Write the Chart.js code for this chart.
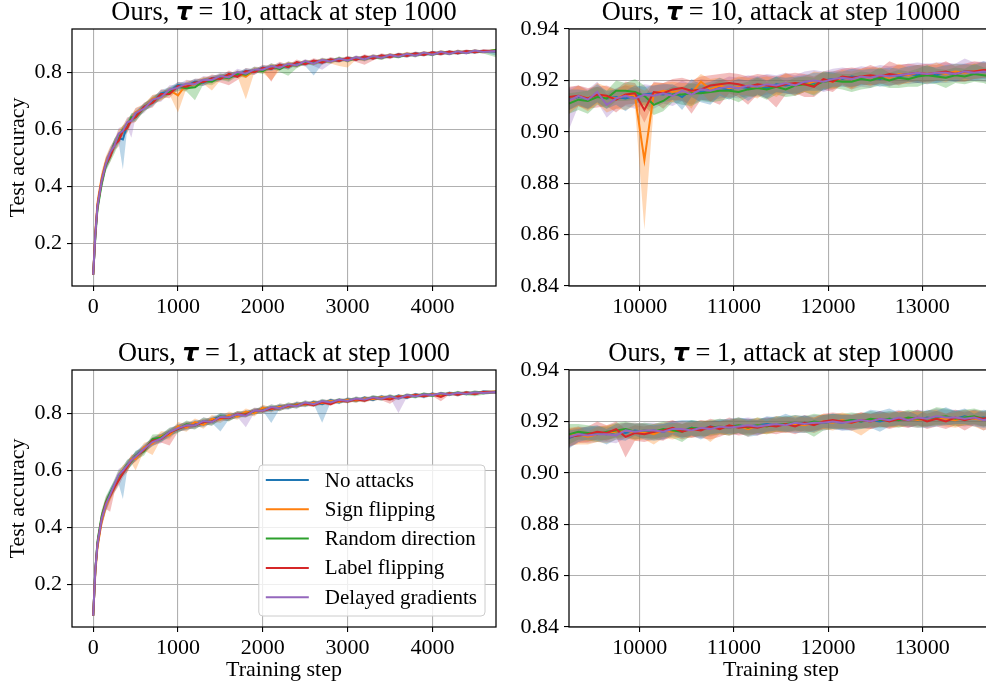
<!DOCTYPE html>
<html><head><meta charset="utf-8">
<script src="https://cdn.jsdelivr.net/npm/chart.js@4/dist/chart.umd.min.js"></script>
<style>
html,body{margin:0;padding:0;background:#fff;width:986px;height:684px;overflow:hidden;position:relative}
canvas{position:absolute}
</style></head><body>
<canvas id="c1" width="500" height="342" style="left:0;top:0"></canvas>
<canvas id="c2" width="494" height="342" style="left:500px;top:0"></canvas>
<canvas id="c3" width="500" height="342" style="left:0;top:342px"></canvas>
<canvas id="c4" width="494" height="342" style="left:500px;top:342px"></canvas>
<script>
// ---------------- DATA ----------------
const seriesNames = ['No attacks', 'Sign flipping', 'Random direction', 'Label flipping', 'Delayed gradients'];

// training steps, attack at step 1000 (left panels)
const stepsEarly = [0,25,50,100,150,200,250,300,350,400,450,500,600,700,800,900,1000,1100,1200,1300,1400,1500,1600,1700,1800,1900,2000,2100,2200,2300,2400,2500,2600,2700,2800,2900,3000,3100,3200,3300,3400,3500,3600,3700,3800,3900,4000,4100,4200,4300,4400,4500,4600,4750];
// training steps, attack at step 10000 (right panels)
const stepsLate = [9250,9350,9450,9550,9650,9750,9850,9950,10050,10150,10250,10350,10450,10550,10650,10750,10850,10950,11050,11150,11250,11350,11450,11550,11650,11750,11850,11950,12050,12150,12250,12350,12450,12550,12650,12750,12850,12950,13050,13150,13250,13350,13450,13550,13650,13750];

// tick values and labels
const xTicksEarly = [0, 1000, 2000, 3000, 4000];
const xTickLabelsEarly = ['0', '1000', '2000', '3000', '4000'];
const xTicksLate = [10000, 11000, 12000, 13000];
const xTickLabelsLate = ['10000', '11000', '12000', '13000'];
const yTicksEarly = [0.2, 0.4, 0.6, 0.8];
const yTickLabelsEarly = ['0.2', '0.4', '0.6', '0.8'];
const yTicksLate = [0.84, 0.86, 0.88, 0.90, 0.92, 0.94];
const yTickLabelsLate = ['0.84', '0.86', '0.88', '0.90', '0.92', '0.94'];

// band offsets (thousandths of accuracy) above the mean, left panels
const upperEarlyA = [3,25,28,25,22,20,20,18,18,17,16,15,15,13,16,12,14,12,13,11,13,10,12,9,11,9,10,8,10,8,9,7,8,7,8,6,7,6,7,6,7,6,6,7,6,7,6,6,5,6,5,6,5,6];
const upperEarlyB = [3,22,25,22,20,18,18,20,15,18,14,17,12,16,12,15,11,14,10,13,10,12,9,11,9,10,8,10,8,9,7,8,6,8,6,7,6,7,6,7,6,7,5,6,5,6,5,6,5,6,5,6,5,5];

// ---- Panel 1: tau = 10, attack at step 1000 (mean test accuracy) ----
const p1_none  = [0.09,0.23,0.33,0.42,0.48,0.515,0.55,0.57,0.565,0.615,0.64,0.648,0.68,0.695,0.727,0.733,0.756,0.752,0.768,0.764,0.78,0.781,0.793,0.79,0.806,0.802,0.818,0.813,0.826,0.82,0.834,0.83,0.84,0.835,0.846,0.841,0.851,0.846,0.855,0.85,0.859,0.855,0.864,0.859,0.868,0.863,0.871,0.866,0.873,0.868,0.875,0.871,0.876,0.874];
const p1_sign  = [0.09,0.24,0.34,0.43,0.485,0.52,0.545,0.582,0.596,0.622,0.636,0.66,0.675,0.708,0.713,0.738,0.72,0.76,0.758,0.773,0.772,0.785,0.784,0.798,0.786,0.81,0.807,0.822,0.816,0.83,0.825,0.838,0.832,0.843,0.838,0.848,0.843,0.852,0.848,0.857,0.852,0.862,0.857,0.866,0.861,0.869,0.864,0.872,0.867,0.874,0.87,0.876,0.872,0.878];
const p1_rand  = [0.09,0.22,0.32,0.41,0.475,0.505,0.55,0.568,0.6,0.607,0.643,0.643,0.678,0.70,0.72,0.731,0.75,0.745,0.748,0.77,0.768,0.785,0.78,0.796,0.792,0.81,0.805,0.823,0.812,0.829,0.824,0.837,0.833,0.843,0.839,0.849,0.842,0.852,0.847,0.856,0.851,0.861,0.855,0.865,0.86,0.869,0.863,0.872,0.866,0.874,0.869,0.876,0.872,0.879];
const p1_label = [0.09,0.23,0.33,0.42,0.48,0.505,0.545,0.56,0.594,0.605,0.635,0.643,0.68,0.693,0.725,0.725,0.753,0.75,0.765,0.767,0.78,0.777,0.795,0.785,0.805,0.801,0.817,0.813,0.828,0.819,0.837,0.829,0.842,0.835,0.847,0.841,0.852,0.844,0.857,0.849,0.861,0.854,0.864,0.858,0.868,0.862,0.871,0.865,0.874,0.868,0.876,0.871,0.877,0.875];
const p1_delay = [0.09,0.23,0.33,0.42,0.48,0.52,0.543,0.585,0.595,0.625,0.631,0.658,0.673,0.705,0.713,0.74,0.747,0.761,0.759,0.775,0.774,0.788,0.783,0.802,0.796,0.811,0.81,0.823,0.816,0.831,0.825,0.84,0.831,0.845,0.838,0.849,0.842,0.854,0.846,0.858,0.851,0.862,0.856,0.866,0.859,0.87,0.863,0.873,0.865,0.875,0.868,0.877,0.872,0.876];
// band offsets below the mean, in thousandths of accuracy
const p1_none_lo  = [3,25,28,25,22,20,20,18,105,17,16,15,15,13,16,12,14,12,13,11,13,10,12,9,11,9,10,8,10,8,9,7,50,7,8,6,7,6,7,6,7,6,6,7,6,7,6,6,5,6,5,6,5,14];
const p1_sign_lo  = [3,22,25,22,20,18,18,20,15,18,14,17,12,16,12,15,60,14,10,13,35,12,9,11,80,10,8,50,8,9,7,8,6,8,6,25,25,7,6,7,6,7,5,6,5,6,5,6,5,6,5,6,5,5];
const p1_rand_lo  = [3,25,28,25,22,20,35,18,18,17,16,15,15,13,16,12,14,12,45,11,13,10,12,9,11,9,10,8,10,40,9,7,8,7,8,6,7,6,7,6,7,6,6,7,6,7,6,6,5,6,5,6,5,25];
const p1_label_lo = [3,22,25,22,20,18,18,20,15,18,14,17,12,16,12,15,11,14,10,13,10,12,40,11,9,10,8,45,8,9,7,8,6,8,6,7,6,7,30,7,6,7,5,6,5,6,5,6,5,6,5,6,5,5];
const p1_delay_lo = [3,25,28,25,22,20,20,18,18,17,60,15,15,13,16,12,14,12,13,11,13,10,12,9,11,9,10,8,10,8,9,7,8,35,8,6,7,6,7,6,7,6,6,7,6,7,6,6,5,6,5,6,5,6];

// ---- Panel 2: tau = 10, attack at step 10000 ----
const p2_none  = [0.9125,0.9135,0.913,0.9145,0.913,0.9135,0.913,0.914,0.9145,0.915,0.9145,0.9155,0.9135,0.9165,0.9155,0.9165,0.917,0.9165,0.9175,0.917,0.9175,0.917,0.9185,0.918,0.9185,0.919,0.919,0.92,0.9205,0.9205,0.9215,0.921,0.9215,0.9205,0.922,0.9215,0.9225,0.922,0.9225,0.922,0.923,0.9225,0.9235,0.923,0.9235,0.923];
const p2_sign  = [0.912,0.914,0.913,0.915,0.9135,0.913,0.9145,0.914,0.889,0.915,0.916,0.9155,0.916,0.915,0.9195,0.9165,0.918,0.917,0.9175,0.918,0.917,0.9185,0.9175,0.919,0.918,0.9185,0.9195,0.92,0.9195,0.921,0.9205,0.9215,0.921,0.922,0.921,0.9225,0.922,0.923,0.9225,0.923,0.9225,0.9235,0.923,0.9235,0.924,0.9235];
const p2_rand  = [0.911,0.9125,0.912,0.9135,0.913,0.916,0.916,0.9155,0.914,0.9105,0.912,0.9145,0.9145,0.915,0.915,0.9155,0.916,0.916,0.9155,0.9165,0.917,0.9165,0.9175,0.9165,0.918,0.9185,0.918,0.9195,0.92,0.9195,0.9195,0.9205,0.92,0.921,0.92,0.921,0.9205,0.9215,0.922,0.9215,0.921,0.922,0.9215,0.9225,0.922,0.9215];
const p2_label = [0.9135,0.914,0.913,0.9145,0.914,0.9125,0.9145,0.915,0.9085,0.9155,0.915,0.9165,0.917,0.916,0.9165,0.918,0.9185,0.919,0.9185,0.9175,0.9185,0.918,0.9175,0.9185,0.919,0.9185,0.9175,0.9205,0.9195,0.9215,0.921,0.9215,0.922,0.9215,0.9225,0.922,0.9225,0.923,0.9225,0.923,0.9235,0.9225,0.9235,0.9235,0.924,0.924];
const p2_delay = [0.912,0.914,0.9125,0.9155,0.9105,0.913,0.914,0.913,0.9145,0.914,0.915,0.914,0.916,0.9145,0.9165,0.916,0.917,0.9175,0.917,0.918,0.9175,0.9185,0.918,0.919,0.918,0.9195,0.92,0.9195,0.9205,0.921,0.9205,0.9215,0.921,0.922,0.9215,0.922,0.9225,0.923,0.9225,0.923,0.923,0.9225,0.9235,0.923,0.9235,0.923];
const p2_none_lo  = [4,3,4,3,4,3,5,3,3,4,3,3,5,3,4,6,3,4,3,5,3,4,3,3,4,3,3,4,3,3,4,3,3,3,4,3,3,3,4,3,3,3,3,3,3,3];
const p2_none_hi  = [4,3,3,4,3,3,3,4,3,3,4,3,3,4,3,3,4,3,3,3,4,3,3,3,3,3,4,3,3,3,3,3,3,4,3,3,3,4,3,3,3,4,3,3,4,3];
const p2_sign_lo  = [5,4,5,4,6,4,6,4,27,5,4,4,3,6,4,5,3,4,3,4,4,3,4,3,4,3,5,3,3,3,4,3,3,3,3,4,3,3,4,3,3,3,3,3,3,3];
const p2_sign_hi  = [4,4,3,4,4,3,4,4,27,4,3,4,3,4,3,4,3,3,4,3,4,3,3,4,3,3,4,3,3,3,3,3,4,3,3,4,3,3,3,4,3,3,3,3,3,3];
const p2_rand_lo  = [4,4,5,3,4,4,4,3,4,4,4,3,4,5,3,4,4,3,4,3,3,4,3,3,4,3,4,3,3,3,4,4,3,3,3,4,3,4,3,3,4,3,3,3,3,4];
const p2_rand_hi  = [4,3,4,4,3,4,3,5,4,3,4,3,3,4,3,3,4,3,3,3,4,3,4,3,3,3,3,4,3,3,3,3,3,4,3,3,3,3,4,3,3,3,3,4,3,3];
const p2_label_lo = [5,4,4,5,4,5,4,4,5,4,6,4,5,9,4,6,8,4,5,7,4,5,8,4,4,5,4,4,4,3,4,3,4,3,3,4,3,4,3,3,3,3,4,3,3,3];
const p2_label_hi = [4,4,4,3,4,4,5,4,5,4,4,4,4,4,5,4,4,4,4,4,4,4,4,4,4,4,4,3,4,3,4,3,4,3,5,4,4,3,4,3,4,3,3,4,3,3];
const p2_delay_lo = [11,4,4,4,5,4,4,4,4,5,4,4,4,4,4,4,4,4,4,4,4,4,3,4,4,4,3,4,4,3,4,4,4,3,4,3,4,4,3,4,4,3,4,3,4,4];
const p2_delay_hi = [5,4,4,4,4,4,4,4,4,4,4,4,4,4,4,4,3,4,4,4,4,4,4,4,4,4,4,4,4,4,4,4,4,4,4,4,4,4,4,4,4,4,5,4,4,4];

// ---- Panel 3: tau = 1, attack at step 1000 ----
const p3_none  = [0.09,0.25,0.34,0.43,0.48,0.52,0.545,0.57,0.59,0.615,0.635,0.65,0.68,0.698,0.718,0.728,0.753,0.752,0.767,0.763,0.78,0.787,0.791,0.792,0.803,0.803,0.82,0.812,0.827,0.821,0.835,0.829,0.841,0.833,0.847,0.839,0.851,0.844,0.856,0.848,0.86,0.851,0.863,0.856,0.868,0.86,0.87,0.863,0.873,0.866,0.875,0.869,0.877,0.875];
const p3_sign  = [0.09,0.24,0.33,0.42,0.475,0.51,0.54,0.575,0.60,0.61,0.64,0.64,0.682,0.694,0.722,0.724,0.756,0.75,0.77,0.76,0.782,0.779,0.795,0.789,0.807,0.8,0.821,0.814,0.825,0.824,0.833,0.831,0.839,0.836,0.845,0.841,0.849,0.845,0.854,0.85,0.858,0.853,0.861,0.858,0.866,0.862,0.868,0.865,0.871,0.868,0.874,0.87,0.876,0.877];
const p3_rand  = [0.09,0.25,0.35,0.44,0.49,0.52,0.55,0.58,0.60,0.62,0.632,0.652,0.668,0.71,0.716,0.735,0.746,0.762,0.757,0.773,0.77,0.79,0.784,0.798,0.797,0.809,0.811,0.822,0.818,0.83,0.827,0.838,0.832,0.843,0.838,0.848,0.843,0.853,0.847,0.858,0.852,0.861,0.854,0.865,0.859,0.869,0.863,0.871,0.866,0.874,0.868,0.876,0.871,0.877];
const p3_label = [0.09,0.25,0.34,0.43,0.485,0.51,0.54,0.565,0.59,0.612,0.635,0.648,0.672,0.705,0.71,0.733,0.746,0.758,0.759,0.77,0.772,0.786,0.784,0.799,0.796,0.81,0.81,0.818,0.819,0.827,0.828,0.835,0.829,0.84,0.833,0.846,0.842,0.85,0.845,0.855,0.853,0.849,0.86,0.857,0.865,0.861,0.867,0.858,0.871,0.866,0.874,0.869,0.876,0.875];
const p3_delay = [0.09,0.25,0.34,0.43,0.48,0.515,0.55,0.585,0.60,0.618,0.636,0.648,0.676,0.70,0.712,0.735,0.749,0.759,0.758,0.774,0.77,0.789,0.786,0.797,0.792,0.811,0.81,0.823,0.818,0.83,0.826,0.839,0.833,0.844,0.839,0.848,0.844,0.853,0.849,0.857,0.852,0.861,0.852,0.865,0.86,0.868,0.864,0.871,0.866,0.873,0.869,0.875,0.872,0.876];
const p3_none_lo  = [3,25,28,25,22,20,20,18,90,17,16,15,15,13,16,12,14,12,13,11,13,50,12,9,11,9,10,45,10,8,9,7,8,65,8,6,7,6,7,6,7,6,6,7,6,7,6,6,5,6,5,6,5,6];
const p3_sign_lo  = [3,22,25,22,20,18,18,20,15,18,14,40,12,40,12,15,11,14,10,13,10,12,9,11,9,10,8,10,8,9,7,8,6,8,6,7,6,7,6,7,6,7,5,6,5,6,5,6,5,6,5,6,5,5];
const p3_rand_lo  = [3,25,28,25,22,20,20,18,18,17,16,15,15,13,16,12,14,12,13,11,13,10,12,9,11,9,10,8,10,8,9,7,8,7,8,6,7,6,7,6,7,6,6,7,6,7,6,6,5,6,5,15,5,6];
const p3_label_lo = [3,22,25,22,20,55,18,20,15,18,14,17,12,16,12,45,11,14,10,13,10,12,9,11,9,10,8,10,8,9,7,8,6,8,6,7,6,7,6,7,6,15,5,6,5,6,5,15,5,6,5,6,5,5];
const p3_delay_lo = [3,25,28,25,22,20,20,18,18,17,16,15,15,13,16,12,14,12,13,11,13,10,12,9,40,9,10,8,10,8,9,7,8,7,8,6,7,6,7,6,7,6,50,7,6,7,6,6,5,6,5,6,5,6];

// ---- Panel 4: tau = 1, attack at step 10000 ----
const p4_none  = [0.9135,0.915,0.915,0.9155,0.915,0.916,0.9155,0.9165,0.916,0.9165,0.916,0.917,0.9165,0.9175,0.917,0.918,0.9175,0.918,0.9185,0.918,0.9185,0.919,0.9185,0.919,0.9185,0.9195,0.919,0.9195,0.92,0.9195,0.9205,0.92,0.9205,0.92,0.921,0.9205,0.921,0.9205,0.9215,0.921,0.9215,0.921,0.922,0.921,0.9215,0.921];
const p4_sign  = [0.9145,0.915,0.914,0.915,0.9155,0.916,0.9165,0.9155,0.916,0.915,0.9165,0.916,0.917,0.9165,0.9175,0.917,0.918,0.9175,0.9185,0.917,0.9185,0.918,0.919,0.9185,0.919,0.9185,0.9195,0.92,0.9195,0.9205,0.9195,0.9205,0.92,0.921,0.9205,0.921,0.921,0.9205,0.921,0.9215,0.921,0.9205,0.9215,0.921,0.9205,0.921];
const p4_rand  = [0.915,0.916,0.9155,0.915,0.916,0.9165,0.917,0.916,0.9165,0.916,0.917,0.9165,0.916,0.9175,0.917,0.9175,0.918,0.9175,0.9185,0.9175,0.9185,0.918,0.919,0.919,0.9195,0.919,0.92,0.9195,0.92,0.92,0.9205,0.92,0.921,0.9205,0.921,0.9205,0.9215,0.921,0.921,0.9215,0.922,0.921,0.9215,0.922,0.921,0.9215];
const p4_label = [0.914,0.9145,0.915,0.916,0.9155,0.917,0.914,0.9155,0.915,0.916,0.9165,0.9175,0.916,0.917,0.9165,0.918,0.917,0.9185,0.9175,0.918,0.9175,0.9185,0.918,0.919,0.918,0.9195,0.9185,0.92,0.9205,0.92,0.9195,0.9205,0.92,0.921,0.92,0.921,0.9205,0.9215,0.92,0.921,0.92,0.9215,0.9205,0.9215,0.921,0.922];
const p4_delay = [0.914,0.915,0.9145,0.915,0.915,0.9145,0.9165,0.916,0.9165,0.9165,0.916,0.917,0.917,0.9165,0.9175,0.917,0.918,0.9175,0.918,0.9185,0.918,0.9185,0.919,0.9185,0.9195,0.919,0.9195,0.9195,0.92,0.9195,0.92,0.9205,0.92,0.921,0.9205,0.9215,0.9205,0.9215,0.921,0.922,0.9215,0.9215,0.921,0.9215,0.9205,0.921];
const p4_none_lo  = [4,3,2,3,4,3,3,2,3,4,3,2,3,3,4,3,2,3,3,4,4,3,2,3,3,4,3,2,3,3,4,3,3,4,3,2,3,3,4,3,3,2,3,3,4,3];
const p4_none_hi  = [3,2,3,3,2,3,4,3,3,2,3,3,4,3,3,2,3,3,3,3,2,3,3,4,3,3,2,3,3,3,2,3,4,4,4,3,3,2,3,3,4,3,3,2,3,3];
const p4_sign_lo  = [4,4,3,3,4,3,3,3,3,4,3,3,3,3,3,5,3,3,3,3,3,3,3,3,3,3,3,3,3,3,3,6,3,3,3,3,3,3,3,3,3,3,3,3,4,3];
const p4_sign_hi  = [3,3,2,3,3,3,3,4,3,3,2,3,3,3,3,3,2,3,3,3,3,2,3,3,3,3,2,3,3,3,3,3,3,2,3,3,3,3,3,3,2,3,3,3,3,3];
const p4_rand_lo  = [4,3,3,3,3,3,3,3,3,3,3,3,4,3,3,3,3,3,3,3,3,3,3,3,3,3,6,3,3,3,3,3,3,3,3,3,3,3,3,3,3,3,3,3,3,3];
const p4_rand_hi  = [4,3,3,3,2,3,3,3,3,3,3,3,3,3,3,3,3,3,3,3,3,3,3,3,3,3,3,3,3,3,3,3,3,3,3,3,3,3,3,4,3,3,3,3,3,3];
const p4_label_lo = [4,3,3,3,3,3,8,3,3,3,4,3,3,3,3,5,3,3,3,3,3,3,3,3,3,3,3,3,3,3,3,3,3,3,3,3,3,3,3,3,3,3,4,3,3,3];
const p4_label_hi = [3,3,3,4,3,3,3,3,3,3,3,3,3,3,3,3,3,3,3,3,3,3,3,3,3,3,3,3,3,3,3,3,3,3,3,3,3,3,3,3,3,3,3,3,3,3];
const p4_delay_lo = [4,3,3,3,3,3,3,3,3,3,3,3,3,3,3,3,3,3,3,3,3,3,3,3,3,3,3,3,3,3,3,3,3,3,3,3,3,3,3,3,3,3,3,3,4,3];
const p4_delay_hi = [3,3,3,3,3,3,3,3,3,3,3,3,3,3,3,3,3,3,3,3,3,3,3,3,3,3,3,3,3,3,3,3,3,3,3,3,3,3,3,3,3,3,3,3,3,3];

// ---------------- STYLE ----------------
const COLORS = ['#1f77b4', '#ff7f0e', '#2ca02c', '#d62728', '#9467bd'];
const BAND_UNIT = 0.001;
const FONT_FAMILY = "'Liberation Serif', 'Times New Roman', serif";
Chart.defaults.font.family = FONT_FAMILY;
Chart.defaults.font.size = 22;
Chart.defaults.color = '#000';

function rgba(hex, a) {
  const n = parseInt(hex.slice(1), 16);
  return `rgba(${(n >> 16) & 255},${(n >> 8) & 255},${n & 255},${a})`;
}

function buildDatasets(steps, means, los, his) {
  const bands = [], lines = [];
  means.forEach((m, s) => {
    bands.push({
      data: steps.map((x, i) => ({ x, y: m[i] + his[s][i] * BAND_UNIT })),
      fill: '+1', backgroundColor: rgba(COLORS[s], 0.3), borderColor: 'rgba(0,0,0,0)',
      borderWidth: 0, pointRadius: 0, order: 10
    });
    bands.push({
      data: steps.map((x, i) => ({ x, y: m[i] - los[s][i] * BAND_UNIT })),
      fill: false, borderColor: 'rgba(0,0,0,0)', borderWidth: 0, pointRadius: 0, order: 10
    });
    lines.push({
      label: seriesNames[s],
      data: steps.map((x, i) => ({ x, y: m[i] })),
      borderColor: COLORS[s], borderWidth: 2, pointRadius: 0, fill: false,
      order: 4 - s, isSeries: true
    });
  });
  return bands.concat(lines);
}

const framePlugin = {
  id: 'frame',
  afterDatasetsDraw(chart) {
    const { ctx, chartArea: a } = chart;
    ctx.save();
    ctx.strokeStyle = '#000';
    ctx.lineWidth = 1.25;
    ctx.strokeRect(a.left, a.top, a.right - a.left, a.bottom - a.top);
    ctx.restore();
  }
};

const titlePlugin = {
  id: 'panelTitle',
  afterDraw(chart, args, opts) {
    const { ctx, chartArea: a } = chart;
    ctx.save();
    ctx.fillStyle = '#000';
    ctx.textBaseline = 'alphabetic';
    const parts = [
      { t: opts.pre, f: `26.4px ${FONT_FAMILY}` },
      { t: 'τ', f: `italic bold 25px 'DejaVu Sans'` },
      { t: opts.post, f: `26.4px ${FONT_FAMILY}` }
    ];
    let w = 0;
    parts.forEach(p => { ctx.font = p.f; p.w = ctx.measureText(p.t).width; w += p.w; });
    let x = (a.left + a.right) / 2 - w / 2;
    const y = a.top - opts.gap;
    parts.forEach(p => { ctx.font = p.f; ctx.fillText(p.t, x, y); x += p.w; });
    ctx.restore();
  }
};

const legendPlugin = {
  id: 'cornerLegend',
  afterDraw(chart, args, opts) {
    if (!opts.show) return;
    const { ctx, chartArea: a } = chart;
    const items = chart.data.datasets.filter(d => d.isSeries);
    ctx.save();
    ctx.font = `21px ${FONT_FAMILY}`;
    let tw = 0;
    items.forEach(d => { tw = Math.max(tw, ctx.measureText(d.label).width); });
    const rowH = 29.3, padTop = 15;
    const w = 66 + tw + 8, h = 151;
    const right = a.right - 11, bottom = a.bottom - 11;
    const left = right - w, top = bottom - h;
    ctx.beginPath();
    ctx.roundRect(left, top, w, h, 4);
    ctx.fillStyle = 'rgba(255,255,255,0.8)';
    ctx.fill();
    ctx.strokeStyle = '#cccccc';
    ctx.lineWidth = 1;
    ctx.stroke();
    ctx.textBaseline = 'middle';
    ctx.fillStyle = '#000';
    items.forEach((d, i) => {
      const y = top + padTop + i * rowH;
      ctx.beginPath();
      ctx.moveTo(left + 7, y);
      ctx.lineTo(left + 50, y);
      ctx.strokeStyle = d.borderColor;
      ctx.lineWidth = 2;
      ctx.stroke();
      ctx.fillText(d.label, left + 66, y + 1);
    });
    ctx.restore();
  }
};

function makePanel(id, cfg) {
  const canvas = document.getElementById(id);
  const W = canvas.width, H = canvas.height;
  const grid = { color: '#b0b0b0', lineWidth: 1.1, tickColor: '#000', tickLength: 5, tickWidth: 1.1 };
  new Chart(canvas, {
    type: 'line',
    data: { datasets: buildDatasets(cfg.steps, cfg.means, cfg.los, cfg.his) },
    plugins: [framePlugin, titlePlugin, legendPlugin],
    options: {
      responsive: false, animation: false, events: [],
      layout: { padding: { left: 0, top: cfg.top, right: W - cfg.right, bottom: 0 } },
      plugins: {
        legend: { display: false }, tooltip: { enabled: false },
        panelTitle: { pre: 'Ours, ', post: cfg.titlePost, gap: cfg.titleGap },
        cornerLegend: { show: !!cfg.legend }
      },
      scales: {
        x: {
          type: 'linear', min: cfg.xMin, max: cfg.xMax,
          afterBuildTicks: s => { s.ticks = cfg.xTicks.map(v => ({ value: v })); },
          afterFit: s => { s.height = H - cfg.bottom; },
          ticks: { color: '#000', padding: 3, maxRotation: 0, autoSkip: false,
                   callback: v => cfg.xTickLabels[cfg.xTicks.indexOf(v)] },
          grid, border: { display: false },
          title: { display: !!cfg.xTitle, text: 'Training step', color: '#000',
                   padding: { top: 0, bottom: 1 } }
        },
        y: {
          min: cfg.yMin, max: cfg.yMax,
          afterBuildTicks: s => { s.ticks = cfg.yTicks.map(v => ({ value: v })); },
          afterFit: s => { s.width = cfg.left; },
          ticks: { color: '#000', padding: 5, callback: v => cfg.yTickLabels[cfg.yTicks.indexOf(v)] },
          grid, border: { display: false },
          title: { display: !!cfg.yTitle, text: 'Test accuracy', color: '#000',
                   padding: { top: 5, bottom: 0 } }
        }
      }
    }
  });
}

const earlyAxes = { steps: stepsEarly, xMin: -250, xMax: 4750, xTicks: xTicksEarly, xTickLabels: xTickLabelsEarly,
  yMin: 0.05, yMax: 0.953, yTicks: yTicksEarly, yTickLabels: yTickLabelsEarly, left: 72, right: 496, yTitle: true };
const lateAxes = { steps: stepsLate, xMin: 9250, xMax: 13750, xTicks: xTicksLate, xTickLabels: xTickLabelsLate,
  yMin: 0.84, yMax: 0.94, yTicks: yTicksLate, yTickLabels: yTickLabelsLate, left: 69, right: 493, yTitle: false };

makePanel('c1', Object.assign({}, earlyAxes, {
  top: 29, bottom: 286, titlePost: ' = 10, attack at step 1000', titleGap: 9,
  means: [p1_none, p1_sign, p1_rand, p1_label, p1_delay],
  los: [p1_none_lo, p1_sign_lo, p1_rand_lo, p1_label_lo, p1_delay_lo],
  his: [upperEarlyB, upperEarlyA, upperEarlyB, upperEarlyA, upperEarlyB]
}));
makePanel('c2', Object.assign({}, lateAxes, {
  top: 29, bottom: 286, titlePost: ' = 10, attack at step 10000', titleGap: 9,
  means: [p2_none, p2_sign, p2_rand, p2_label, p2_delay],
  los: [p2_none_lo, p2_sign_lo, p2_rand_lo, p2_label_lo, p2_delay_lo],
  his: [p2_none_hi, p2_sign_hi, p2_rand_hi, p2_label_hi, p2_delay_hi]
}));
makePanel('c3', Object.assign({}, earlyAxes, {
  top: 28, bottom: 285, titlePost: ' = 1, attack at step 1000', titleGap: 9, xTitle: true, legend: true,
  means: [p3_none, p3_sign, p3_rand, p3_label, p3_delay],
  los: [p3_none_lo, p3_sign_lo, p3_rand_lo, p3_label_lo, p3_delay_lo],
  his: [upperEarlyB, upperEarlyA, upperEarlyB, upperEarlyA, upperEarlyB]
}));
makePanel('c4', Object.assign({}, lateAxes, {
  top: 28, bottom: 285, titlePost: ' = 1, attack at step 10000', titleGap: 9, xTitle: true,
  means: [p4_none, p4_sign, p4_rand, p4_label, p4_delay],
  los: [p4_none_lo, p4_sign_lo, p4_rand_lo, p4_label_lo, p4_delay_lo],
  his: [p4_none_hi, p4_sign_hi, p4_rand_hi, p4_label_hi, p4_delay_hi]
}));
</script>
</body></html>
